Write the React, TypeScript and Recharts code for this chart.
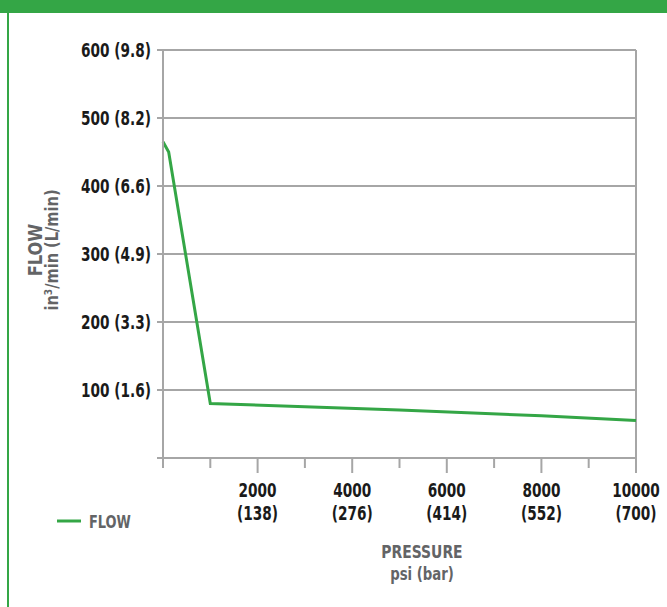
import React from 'react';
import {
  LineChart,
  Line,
  XAxis,
  YAxis,
  CartesianGrid,
  ReferenceLine,
} from 'recharts';

// pressure in psi, flow in in3/min
const pressure = [0, 120, 1000, 3000, 5000, 8000, 10000];
const flow = [465, 450, 80, 75.5, 70.5, 62, 55];

const xTicks = [0, 1000, 2000, 3000, 4000, 5000, 6000, 7000, 8000, 9000, 10000];
const xLabels: Record<number, string> = {
  2000: '138',
  4000: '276',
  6000: '414',
  8000: '552',
  10000: '700',
};
const yTicks = [0, 100, 200, 300, 400, 500, 600];
const yLabels: Record<number, string> = {
  100: '100 (1.6)',
  200: '200 (3.3)',
  300: '300 (4.9)',
  400: '400 (6.6)',
  500: '500 (8.2)',
  600: '600 (9.8)',
};

const data = pressure.map((p, i) => ({ p, flow: flow[i] }));

const GREEN = '#34a646';
const GRID = '#a6a6a6';
const FONT = "'DejaVu Sans Condensed', 'DejaVu Sans', sans-serif";

const PLOT_LEFT = 163;
const PLOT_BOTTOM = 458;

// condensed text: squeeze horizontally around its anchor point
const CText = ({ x, y, sx = 0.84, rotate = 0, size = 18, fill = '#1a1a1a', anchor = 'start', weight = 'bold', children }: any) => (
  <text
    transform={`translate(${x},${y}) rotate(${rotate}) scale(${sx},1)`}
    textAnchor={anchor}
    fontFamily={FONT}
    fontWeight={weight}
    fontSize={size}
    fill={fill}
  >
    {children}
  </text>
);

const XTick = (props: any) => {
  const { x, payload } = props;
  const v = payload.value;
  const major = v !== 0 && v % 2000 === 0;
  return (
    <g>
      <line x1={x} x2={x} y1={PLOT_BOTTOM} y2={PLOT_BOTTOM + (major ? 15 : 10)} stroke={GRID} strokeWidth={2} />
      {major && (
        <>
          <CText x={x} y={PLOT_BOTTOM + 39} anchor="middle" size={19} sx={0.8}>{v}</CText>
          <CText x={x} y={PLOT_BOTTOM + 62} anchor="middle" size={19} sx={0.8}>({xLabels[v]})</CText>
        </>
      )}
    </g>
  );
};

const YTick = (props: any) => {
  const { y, payload } = props;
  const v = payload.value;
  return (
    <g>
      <line x1={PLOT_LEFT - 6} x2={PLOT_LEFT} y1={y} y2={y} stroke={GRID} strokeWidth={2} />
      {yLabels[v] && (
        <CText x={PLOT_LEFT - 12} y={y + 7} anchor="end" size={19} sx={0.8}>
          {yLabels[v]}
        </CText>
      )}
    </g>
  );
};

export default function App() {
  return (
    <div style={{ position: 'absolute', left: 0, top: 0, width: 667, height: 607, background: '#fff', overflow: 'hidden' }}>
      <div style={{ position: 'absolute', left: 0, top: 0, width: 667, height: 13, background: GREEN }} />
      <div style={{ position: 'absolute', left: 7, top: 0, width: 2, height: 607, background: GREEN }} />
      <LineChart
        width={667}
        height={607}
        data={data}
        margin={{ top: 50, right: 31, bottom: 89, left: 8 }}
      >
        <CartesianGrid vertical={false} stroke={GRID} strokeWidth={2} />
        <XAxis
          dataKey="p"
          type="number"
          domain={[0, 10000]}
          ticks={xTicks}
          tick={<XTick />}
          tickLine={false}
          axisLine={{ stroke: GRID, strokeWidth: 2 }}
          height={60}
          interval={0}
        />
        <YAxis
          type="number"
          domain={[0, 600]}
          ticks={yTicks}
          tick={<YTick />}
          tickLine={false}
          axisLine={{ stroke: GRID, strokeWidth: 2 }}
          width={155}
          interval={0}
        />
        <ReferenceLine x={10000} stroke={GRID} strokeWidth={2} />
        <Line
          type="linear"
          dataKey="flow"
          stroke={GREEN}
          strokeWidth={3}
          dot={false}
          isAnimationActive={false}
        />
        <CText x={42} y={250} rotate={-90} anchor="middle" size={19} sx={0.95} fill="#636466">
          FLOW
        </CText>
        <CText x={58} y={250} rotate={-90} anchor="middle" size={18} sx={0.9} fill="#636466">
          in³/min (L/min)
        </CText>
        <line x1={57} x2={81} y1={521} y2={521} stroke={GREEN} strokeWidth={3} />
        <CText x={89} y={528} size={18} sx={0.8} fill="#636466">
          FLOW
        </CText>
        <CText x={422} y={558} anchor="middle" size={18} sx={0.86} fill="#636466">
          PRESSURE
        </CText>
        <CText x={422} y={580} anchor="middle" size={18} sx={0.82} fill="#636466">
          psi (bar)
        </CText>
      </LineChart>
    </div>
  );
}
